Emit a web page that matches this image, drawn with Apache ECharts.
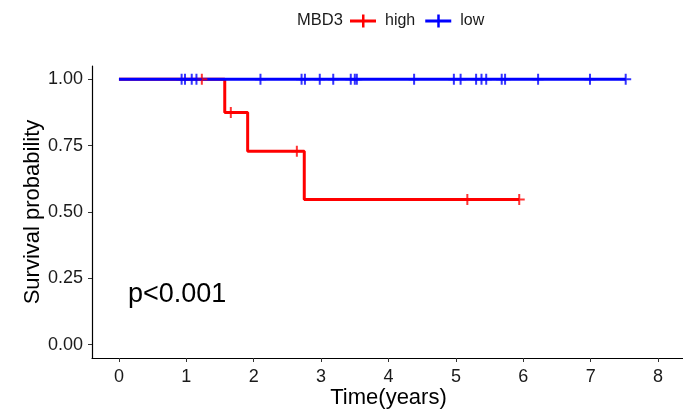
<!DOCTYPE html>
<html><head><meta charset="utf-8">
<script src="https://cdn.jsdelivr.net/npm/echarts@6/dist/echarts.min.js"></script>
<style>html,body{margin:0;padding:0;background:#fff}#c{width:683px;height:414px}</style>
</head><body><div id="c"></div>
<script>
const xTicks = [0,1,2,3,4,5,6,7,8];
const yTicks = [0,0.25,0.5,0.75,1];
const highTimes = [0,1.57,1.91,2.75,5.94];
const highSurv = [1,0.875,0.729,0.547,0.547];
const highCensorT = [1.23,1.66,2.64,5.17,5.94];
const highCensorS = [1,0.875,0.729,0.547,0.547];
const lowTimes = [0,7.52];
const lowSurv = [1,1];
const lowCensorT = [0.93,0.98,1.08,1.15,2.10,2.71,2.76,2.98,3.18,3.44,3.50,3.53,4.38,4.97,5.07,5.30,5.38,5.45,5.68,5.73,6.22,6.99,7.52];
const pText = 'p<0.001';

const zip = (a,b)=>a.map((v,i)=>[v,b[i]]);
const plus = 'path://M4.5,0h2v4.5h4.5v2h-4.5v4.5h-2v-4.5h-4.5v-2h4.5z';
const legIcon = 'path://M0,5h26v3h-26z M12,0h2.5v13h-2.5z';
const font = 'Liberation Sans, Arial, sans-serif';

const chart = echarts.init(document.getElementById('c'), null, {renderer:'canvas'});
chart.setOption({
  animation:false,
  textStyle:{fontFamily:font},
  grid:{left:92, top:66, width:593, height:292, containLabel:false, outerBoundsMode:'none'},
  legend:{
    left:350, top:13, padding:0, itemWidth:26, itemHeight:13, itemGap:10,
    textStyle:{fontSize:16, color:'#1a1a1a', fontFamily:font, padding:[0,0,0,4]},
    data:[{name:'high', icon:legIcon, itemStyle:{color:'#ff0000'}},{name:'low', icon:legIcon, itemStyle:{color:'#0000ff'}}]
  },
  graphic:[
    {type:'text', left:297, top:12, style:{text:'MBD3', font:'16.5px '+font, fill:'#1a1a1a'}},
    {type:'text', left:128, top:281, style:{text:pText, font:'27px '+font, fill:'#000'}}
  ],
  xAxis:{
    type:'value', min:-0.4, max:8.4,
    name:'Time(years)', nameLocation:'middle', nameGap:29, nameMoveOverlap:false,
    nameTextStyle:{fontSize:22, color:'#000', fontFamily:font},
    axisLine:{onZero:false, lineStyle:{color:'#000', width:1.2}},
    axisTick:{show:true, length:4, lineStyle:{color:'#333'}, customValues:xTicks},
    axisLabel:{fontSize:18, color:'#1a1a1a', margin:10, customValues:xTicks},
    splitLine:{show:false}
  },
  yAxis:{
    type:'value', min:-0.05, max:1.05,
    name:'Survival probability', nameLocation:'middle', nameGap:48, nameRotate:90, nameMoveOverlap:false,
    nameTextStyle:{fontSize:22, color:'#000', fontFamily:font},
    axisLine:{show:true, onZero:false, lineStyle:{color:'#000', width:1.2}},
    axisTick:{show:true, length:4, lineStyle:{color:'#333'}, customValues:yTicks},
    axisLabel:{fontSize:18, color:'#1a1a1a', margin:9, customValues:yTicks, formatter:v=>v.toFixed(2)},
    splitLine:{show:false}
  },
  series:[
    {name:'high', type:'line', step:'end', showSymbol:false, symbol:'none', z:2,
     lineStyle:{color:'#ff0000', width:3}, itemStyle:{color:'#ff0000'},
     data:zip(highTimes, highSurv)},
    {name:'low', type:'line', step:'end', showSymbol:false, symbol:'none', z:3,
     lineStyle:{color:'#0000ff', width:3}, itemStyle:{color:'#0000ff'},
     data:zip(lowTimes, lowSurv)},
    {name:'high', type:'scatter', symbol:plus, symbolSize:11, z:4,
     itemStyle:{color:'#ff0000'}, data:zip(highCensorT, highCensorS)},
    {name:'low', type:'scatter', symbol:plus, symbolSize:11, z:4,
     itemStyle:{color:'#0000ff'}, data:lowCensorT.map(t=>[t,1])}
  ]
});
</script></body></html>
